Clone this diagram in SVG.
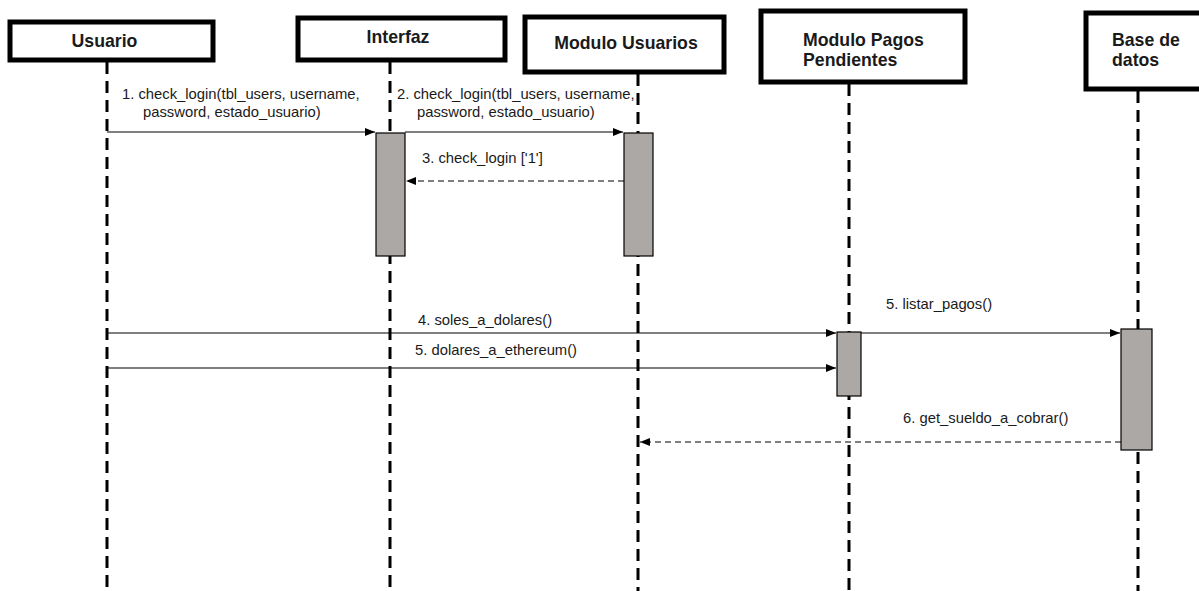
<svg xmlns="http://www.w3.org/2000/svg" width="1199" height="591" viewBox="0 0 1199 591">
  <style>
    .head { fill: #fff; stroke: #000; stroke-width: 5; }
    .htxt { font-family: "Liberation Sans", Arial, sans-serif; font-size: 17.7px; font-weight: bold; fill: #1a1a1a; }
    .life { stroke: #000; stroke-width: 3; stroke-dasharray: 12 7; fill: none; }
    .act { fill: #aba8a6; stroke: #000; stroke-width: 1.2; }
    .msg { stroke: #000; stroke-width: 1.2; fill: none; }
    .ret { stroke: #000; stroke-width: 1.2; fill: none; stroke-dasharray: 6 4; }
    .lbl { font-family: "Liberation Sans", Arial, sans-serif; font-size: 14.8px; fill: #1a1a1a; }
  </style>
  <defs>
    <marker id="arrow" viewBox="0 0 10 8" refX="10" refY="4" markerWidth="10" markerHeight="8" markerUnits="userSpaceOnUse" orient="auto">
      <path d="M0,0 L10,4 L0,8 Z" fill="#000"/>
    </marker>
  </defs>

  <rect width="1199" height="591" fill="#fff"/>

  <!-- lifelines -->
  <g id="lifelines">
    <line class="life" x1="107" y1="62" x2="107" y2="591"/>
    <line class="life" x1="390" y1="62" x2="390" y2="591"/>
    <line class="life" x1="638" y1="74" x2="638" y2="591"/>
    <line class="life" x1="849" y1="84" x2="849" y2="591"/>
    <line class="life" x1="1138" y1="91" x2="1138" y2="591"/>
  </g>

  <!-- participants -->
  <g id="usuario">
    <rect class="head" x="10" y="22" width="203" height="38"/>
    <text class="htxt" x="104.5" y="47" text-anchor="middle">Usuario</text>
  </g>
  <g id="interfaz">
    <rect class="head" x="298" y="18" width="207" height="42"/>
    <text class="htxt" x="398" y="43" text-anchor="middle">Interfaz</text>
  </g>
  <g id="modulo-usuarios">
    <rect class="head" x="525" y="17" width="199" height="55"/>
    <text class="htxt" x="626" y="49" text-anchor="middle">Modulo Usuarios</text>
  </g>
  <g id="modulo-pagos">
    <rect class="head" x="761" y="11" width="204" height="71"/>
    <text class="htxt" x="803" y="46">Modulo Pagos</text>
    <text class="htxt" x="803" y="66">Pendientes</text>
  </g>
  <g id="base-datos">
    <rect class="head" x="1086" y="13" width="120" height="76"/>
    <text class="htxt" x="1112" y="46">Base de</text>
    <text class="htxt" x="1112" y="66">datos</text>
  </g>

  <!-- activation bars -->
  <g id="activations">
    <rect class="act" x="376" y="133" width="29" height="123"/>
    <rect class="act" x="624" y="133" width="29" height="123"/>
    <rect class="act" x="837" y="332" width="24" height="64"/>
    <rect class="act" x="1121" y="329" width="31" height="121"/>
  </g>

  <!-- messages -->
  <g id="connectors">
    <line class="msg" x1="107" y1="132" x2="375" y2="132" marker-end="url(#arrow)"/>
    <line class="msg" x1="405" y1="132" x2="623" y2="132" marker-end="url(#arrow)"/>
    <line class="ret" x1="624" y1="181" x2="406" y2="181" marker-end="url(#arrow)"/>
    <line class="msg" x1="107" y1="333" x2="836" y2="333" marker-end="url(#arrow)"/>
    <line class="msg" x1="107" y1="368" x2="836" y2="368" marker-end="url(#arrow)"/>
    <line class="msg" x1="861" y1="333" x2="1120" y2="333" marker-end="url(#arrow)"/>
    <line class="ret" x1="1121" y1="442" x2="640" y2="442" marker-end="url(#arrow)"/>
  </g>

  <!-- message labels -->
  <g id="labels">
    <text class="lbl" x="122" y="99">1. check_login(tbl_users, username,</text>
    <text class="lbl" x="143" y="117">password, estado_usuario)</text>
    <text class="lbl" x="397" y="99">2. check_login(tbl_users, username,</text>
    <text class="lbl" x="417" y="117">password, estado_usuario)</text>
    <text class="lbl" x="422" y="163">3. check_login ['1']</text>
    <text class="lbl" x="418" y="325">4. soles_a_dolares()</text>
    <text class="lbl" x="415" y="355">5. dolares_a_ethereum()</text>
    <text class="lbl" x="886" y="309">5. listar_pagos()</text>
    <text class="lbl" x="903" y="423">6. get_sueldo_a_cobrar()</text>
  </g>
</svg>
